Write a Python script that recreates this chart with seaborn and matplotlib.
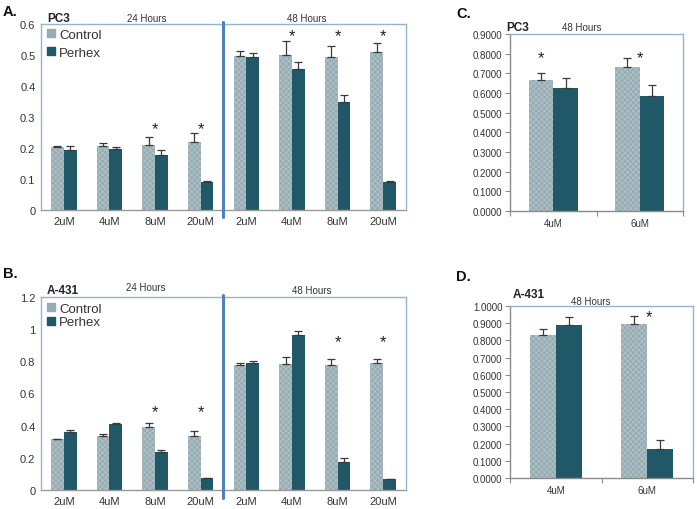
import numpy as np
import pandas as pd
import matplotlib
matplotlib.use("Agg")
import matplotlib.pyplot as plt
from matplotlib.lines import Line2D
import seaborn as sns

sns.set_style("white")
plt.rcParams['font.family'] = ['Liberation Sans', 'DejaVu Sans']
plt.rcParams['hatch.linewidth'] = 0.5

# ---------------- data ----------------
slots_ab = ['24h 2uM', '24h 4uM', '24h 8uM', '24h 20uM',
            '48h 2uM', '48h 4uM', '48h 8uM', '48h 20uM']
conc_ab = ['2uM', '4uM', '8uM', '20uM', '2uM', '4uM', '8uM', '20uM']

pc3_ctrl = [0.203, 0.207, 0.211, 0.218, 0.497, 0.501, 0.495, 0.509]
pc3_ctrl_err = [0.004, 0.009, 0.023, 0.030, 0.015, 0.045, 0.034, 0.029]
pc3_perhex = [0.195, 0.197, 0.176, 0.091, 0.492, 0.454, 0.348, 0.091]
pc3_perhex_err = [0.010, 0.006, 0.016, 0.001, 0.013, 0.024, 0.024, 0.001]
pc3_star_slots = [2, 3, 5, 6, 7]
pc3_star_y = [0.262, 0.262, 0.562, 0.562, 0.562]

a431_ctrl = [0.317, 0.334, 0.390, 0.334, 0.775, 0.781, 0.775, 0.788]
a431_ctrl_err = [0.003, 0.016, 0.027, 0.031, 0.017, 0.048, 0.042, 0.029]
a431_perhex = [0.361, 0.408, 0.236, 0.075, 0.792, 0.966, 0.176, 0.068]
a431_perhex_err = [0.014, 0.011, 0.015, 0.001, 0.012, 0.023, 0.021, 0.001]
a431_star_slots = [2, 3, 6, 7]
a431_star_y = [0.49, 0.49, 0.92, 0.92]

conc_cd = ['4uM', '6uM']
pc3_48_ctrl = [0.667, 0.733]
pc3_48_ctrl_err = [0.036, 0.043]
pc3_48_perhex = [0.623, 0.587]
pc3_48_perhex_err = [0.051, 0.054]
pc3_48_star_slots = [0, 1]
pc3_48_star_y = [0.78, 0.78]

a431_48_ctrl = [0.829, 0.897]
a431_48_ctrl_err = [0.037, 0.045]
a431_48_perhex = [0.889, 0.169]
a431_48_perhex_err = [0.049, 0.054]
a431_48_star_slots = [1]
a431_48_star_y = [0.94]

groups = ['Control', 'Perhex']
ctrl_color = '#97ADB3'
perhex_color = '#215867'
hatch_color = '#B4C6CB'
box_color = '#95B3D7'
div_color = '#4F81BD'
text_color = '#333333'


def make_df(slots, ctrl, perhex):
    return pd.DataFrame({
        'slot': list(slots) * 2,
        'group': ['Control'] * len(slots) + ['Perhex'] * len(slots),
        'value': list(ctrl) + list(perhex),
    })


def draw(ax, slots, labels, ctrl, ctrl_err, perhex, perhex_err, width):
    df = make_df(slots, ctrl, perhex)
    sns.barplot(data=df, x='slot', y='value', hue='group', order=slots,
                hue_order=groups, palette=[ctrl_color, perhex_color],
                errorbar=None, width=width, ax=ax, saturation=1,
                legend=False, linewidth=0)
    for cont, errs in zip(ax.containers, [ctrl_err, perhex_err]):
        xs, ys = [], []
        for bar in cont:
            xs.append(bar.get_x() + bar.get_width() / 2)
            ys.append(bar.get_height())
        ax.errorbar(xs, ys, yerr=[np.zeros(len(errs)), errs], fmt='none',
                    ecolor='#3a3a3a', elinewidth=0.9, capsize=2.6,
                    capthick=0.9, zorder=3)
    for bar in ax.containers[0]:
        bar.set_hatch('xxxxxx')
        bar.set_edgecolor(hatch_color)
        bar.set_linewidth(0)
    ax.set_xlim(-0.5, len(slots) - 0.5)
    ax.set_xticks(range(len(slots)))
    ax.set_xticklabels(labels)
    ax.set_xlabel('')
    ax.set_ylabel('')


fig = plt.figure(figsize=(6.97, 5.10), dpi=100)

# ---------------- Panel A & B ----------------
for (rect, ctrl, ce, ph, pe, ymax, step, stars, stary, name, lab,
     lab_y, name_y, h24, h48, leg_y, legspace) in [
    ([0.0588, 0.5863, 0.5237, 0.3647], pc3_ctrl, pc3_ctrl_err, pc3_perhex,
     pc3_perhex_err, 0.6, 0.1, pc3_star_slots, pc3_star_y, 'PC3', 'A.',
     0.977, 0.962, (147, 0.962), (307, 0.962), 1.018, 0.42),
    ([0.0588, 0.0373, 0.5237, 0.3784], a431_ctrl, a431_ctrl_err, a431_perhex,
     a431_perhex_err, 1.2, 0.2, a431_star_slots, a431_star_y, 'A-431', 'B.',
     0.462, 0.430, (146, 0.435), (312, 0.429), 1.012, 0.08),
]:
    ax = fig.add_axes(rect)
    draw(ax, slots_ab, conc_ab, ctrl, ce, ph, pe, 0.56)
    ax.set_ylim(0, ymax)
    yt = np.round(np.arange(0, ymax + 1e-9, step), 1)
    ax.set_yticks(yt)
    ax.set_yticklabels(['%g' % v for v in yt])
    ax.tick_params(axis='both', length=0, labelsize=8, colors=text_color,
                   pad=4)
    for s in ['left', 'top', 'right']:
        ax.spines[s].set_color(box_color)
        ax.spines[s].set_linewidth(1.0)
    ax.spines['bottom'].set_color('#9a9a9a')
    ax.spines['bottom'].set_linewidth(1.0)
    ax.axvline(3.5, ymin=-0.04, ymax=1.01, color=div_color, lw=2.2,
               clip_on=False, zorder=4)
    for sl, sy in zip(stars, stary):
        ax.text(sl, sy, '*', ha='center', va='center', fontsize=12,
                color='#222222')
    handles = [Line2D([], [], marker='s', ls='none', markersize=5.5,
                      color=c) for c in [ctrl_color, perhex_color]]
    ax.legend(handles, groups, loc='upper left', bbox_to_anchor=(-0.005, leg_y),
              frameon=False, fontsize=9.5, handlelength=0.6,
              handletextpad=0.3, labelspacing=legspace, borderaxespad=0.2,
              labelcolor=text_color)
    fig.text(3 / 697, lab_y, lab, fontsize=10.5, fontweight='bold',
             va='center', ha='left', color='#111111')
    fig.text(47 / 697, name_y, name, fontsize=8.5, fontweight='bold',
             va='center', ha='left', color='#222222')
    fig.text(h24[0] / 697, h24[1], '24 Hours', fontsize=7, va='center',
             ha='center', color=text_color)
    fig.text(h48[0] / 697, h48[1], '48 Hours', fontsize=7, va='center',
             ha='center', color=text_color)

# ---------------- Panel C & D ----------------
for (rect, ctrl, ce, ph, pe, ymax, stars, stary, star_dx, name, lab,
     lab_y, name_x, name_y, h48) in [
    ([0.7317, 0.5843, 0.2483, 0.3471], pc3_48_ctrl, pc3_48_ctrl_err,
     pc3_48_perhex, pc3_48_perhex_err, 0.9, pc3_48_star_slots,
     pc3_48_star_y, [-0.14, 0.0], 'PC3', 'C.', 0.972, 506, 0.945,
     (582, 0.945)),
    ([0.7317, 0.0608, 0.2626, 0.3372], a431_48_ctrl, a431_48_ctrl_err,
     a431_48_perhex, a431_48_perhex_err, 1.0, a431_48_star_slots,
     a431_48_star_y, [0.02], 'A-431', 'D.', 0.457, 513, 0.421,
     (591, 0.408)),
]:
    ax = fig.add_axes(rect)
    draw(ax, conc_cd, conc_cd, ctrl, ce, ph, pe, 0.57)
    ax.set_ylim(0, ymax)
    yt = np.round(np.arange(0, ymax + 1e-9, 0.1), 1)
    ax.set_yticks(yt)
    ax.set_yticklabels(['%.4f' % v for v in yt])
    ax.set_xticks([-0.5, 0.5, 1.5], minor=True)
    ax.tick_params(axis='x', which='major', length=0, labelsize=7,
                   colors=text_color, pad=5)
    ax.tick_params(axis='x', which='minor', length=3.5, color='#8a8a8a',
                   width=0.8, direction='out', bottom=True)
    ax.tick_params(axis='y', length=3.5, width=0.8, color='#8a8a8a',
                   direction='out', left=True, labelsize=7,
                   labelcolor=text_color, pad=2)
    for s in ['top', 'right']:
        ax.spines[s].set_color(box_color)
        ax.spines[s].set_linewidth(1.0)
    for s in ['left', 'bottom']:
        ax.spines[s].set_color('#8a8a8a')
        ax.spines[s].set_linewidth(1.0)
    for sl, sy, dx in zip(stars, stary, star_dx):
        ax.text(sl + dx, sy, '*', ha='center', va='center', fontsize=12,
                color='#222222')
    fig.text(456 / 697, lab_y, lab, fontsize=10.5, fontweight='bold',
             va='center', ha='left', color='#111111')
    fig.text(name_x / 697, name_y, name, fontsize=8.5, fontweight='bold',
             va='center', ha='left', color='#222222')
    fig.text(h48[0] / 697, h48[1], '48 Hours', fontsize=7, va='center',
             ha='center', color=text_color)

fig.savefig('out.png', dpi=100)
